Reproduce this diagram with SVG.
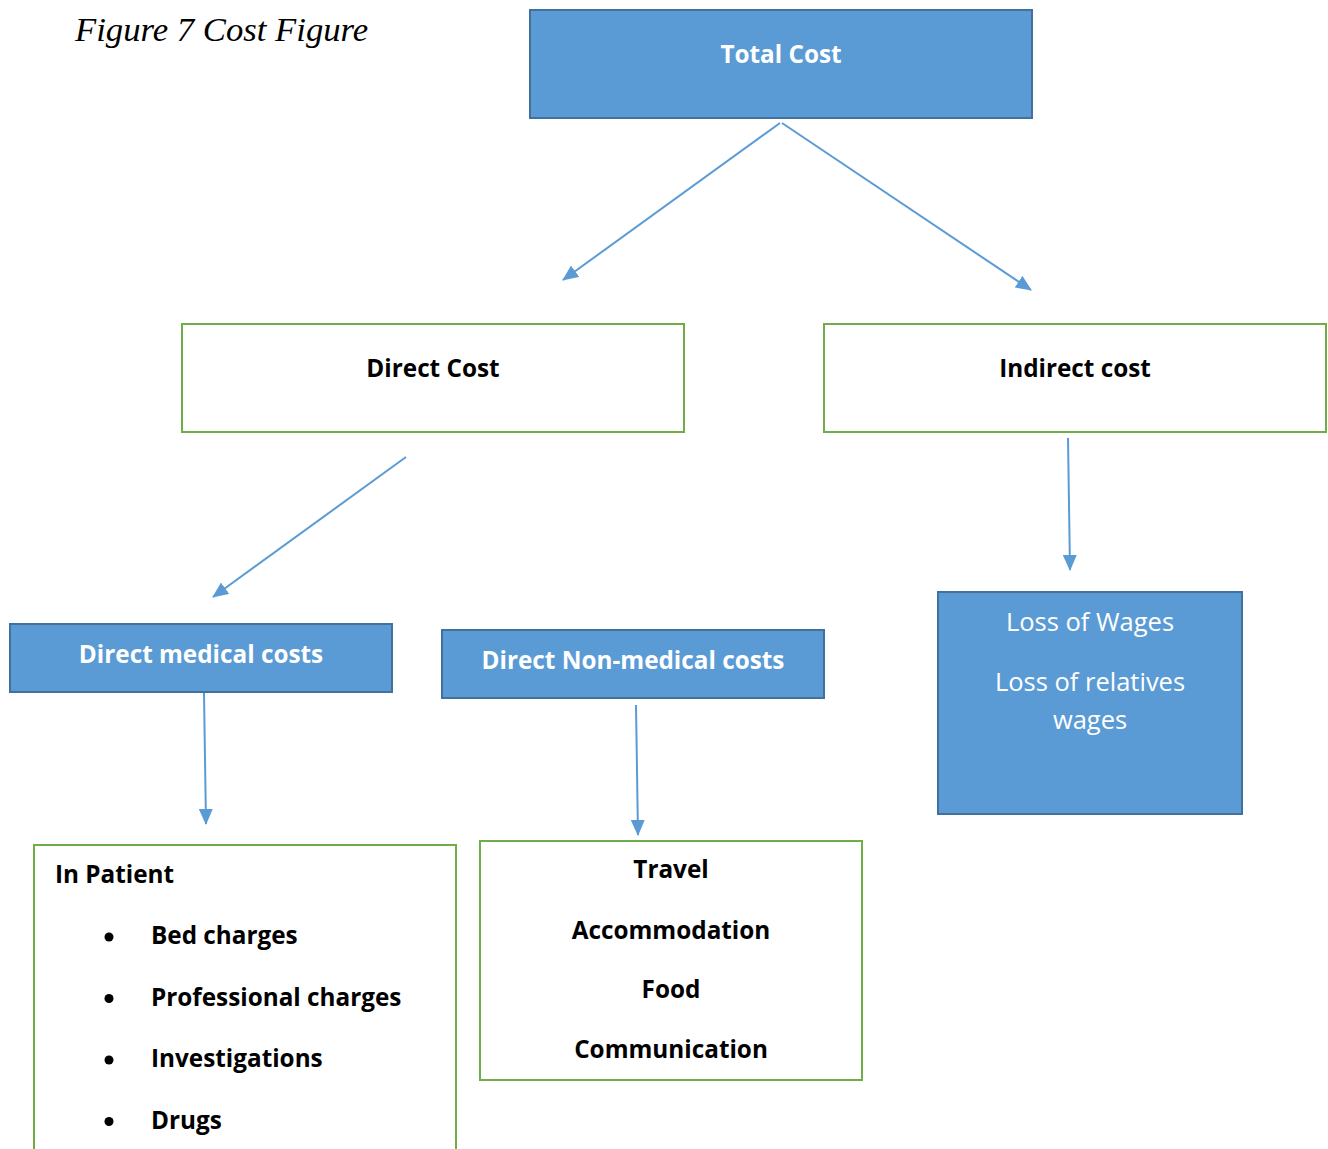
<svg xmlns="http://www.w3.org/2000/svg" width="1328" height="1149" viewBox="0 0 1328 1149">
<style>
.blue{fill:#5B9BD5;stroke:#41719C;stroke-width:2}
.green{fill:#FFFFFF;stroke:#70AD47;stroke-width:2}
.conn{stroke:#5B9BD5;stroke-width:2;fill:none}
.tb{font-family:"Open Sans",Lato,"Liberation Sans",sans-serif;font-weight:bold;font-size:24.3px}
.tr{font-family:"Open Sans",Lato,"Liberation Sans",sans-serif;font-size:25.5px}
.w{fill:#FFFFFF}
.k{fill:#000000}
.c{text-anchor:middle}
.cap{font-family:"Liberation Serif","Times New Roman",serif;font-style:italic;font-size:34.7px;fill:#000}
</style>
<defs>
<marker id="ah" markerUnits="userSpaceOnUse" markerWidth="16" markerHeight="14" refX="15" refY="7" orient="auto">
<path d="M0,0 L16,7 L0,14 Z" fill="#5B9BD5"/>
</marker>
</defs>
<rect width="1328" height="1149" fill="#FFFFFF"/>
<text class="cap" x="75" y="41">Figure 7 Cost Figure</text>
<g id="connectors">
<line class="conn" x1="780" y1="123" x2="563" y2="280" marker-end="url(#ah)"/>
<line class="conn" x1="782" y1="123" x2="1031" y2="290" marker-end="url(#ah)"/>
<line class="conn" x1="406" y1="457" x2="213" y2="597" marker-end="url(#ah)"/>
<line class="conn" x1="1068" y1="438" x2="1070" y2="570" marker-end="url(#ah)"/>
<line class="conn" x1="204" y1="693" x2="206" y2="824" marker-end="url(#ah)"/>
<line class="conn" x1="636" y1="705" x2="638" y2="835" marker-end="url(#ah)"/>
</g>
<g id="total-cost">
<rect class="blue" x="530" y="10" width="502" height="108"/>
<text class="tb w c" x="781" y="63">Total Cost</text>
</g>
<g id="direct-cost">
<rect class="green" x="182" y="324" width="502" height="108"/>
<text class="tb k c" x="433" y="377">Direct Cost</text>
</g>
<g id="indirect-cost">
<rect class="green" x="824" y="324" width="502" height="108"/>
<text class="tb k c" x="1075" y="377">Indirect cost</text>
</g>
<g id="loss-of-wages">
<rect class="blue" x="938" y="592" width="304" height="222"/>
<text class="tr w c" x="1090" y="631">Loss of Wages</text>
<text class="tr w c" x="1090" y="691">Loss of relatives</text>
<text class="tr w c" x="1090" y="729">wages</text>
</g>
<g id="direct-medical">
<rect class="blue" x="10" y="624" width="382" height="68"/>
<text class="tb w c" x="201" y="663">Direct medical costs</text>
</g>
<g id="direct-non-medical">
<rect class="blue" x="442" y="630" width="382" height="68"/>
<text class="tb w c" x="633" y="669">Direct Non-medical costs</text>
</g>
<g id="in-patient">
<path class="green" d="M34,1150 L34,845 L456,845 L456,1150"/>
<text class="tb k" x="55" y="883">In Patient</text>
<circle cx="109" cy="937" r="4.5" fill="#000"/>
<circle cx="109" cy="998.5" r="4.5" fill="#000"/>
<circle cx="109" cy="1060" r="4.5" fill="#000"/>
<circle cx="109" cy="1121.5" r="4.5" fill="#000"/>
<text class="tb k" x="151" y="944">Bed charges</text>
<text class="tb k" x="151" y="1006">Professional charges</text>
<text class="tb k" x="151" y="1067">Investigations</text>
<text class="tb k" x="151" y="1129">Drugs</text>
</g>
<g id="non-medical-items">
<rect class="green" x="480" y="841" width="382" height="239"/>
<text class="tb k c" x="671" y="878">Travel</text>
<text class="tb k c" x="671" y="939">Accommodation</text>
<text class="tb k c" x="671" y="998">Food</text>
<text class="tb k c" x="671" y="1058">Communication</text>
</g>
</svg>
